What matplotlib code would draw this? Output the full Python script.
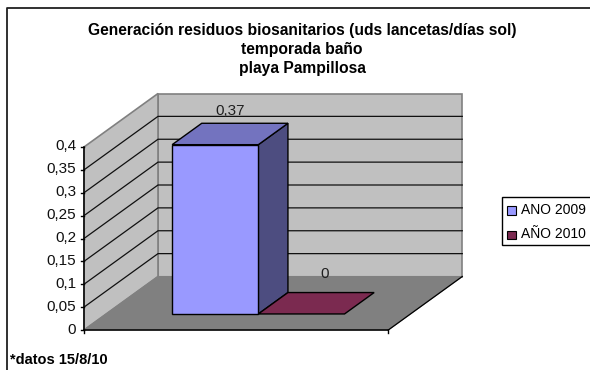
import matplotlib
matplotlib.use('Agg')
import matplotlib.pyplot as plt
from matplotlib.patches import Polygon, Rectangle

plt.rcParams['font.family'] = ['Liberation Sans', 'DejaVu Sans']

# chart data
series_names = ['ANO 2009', 'AÑO 2010']
series_values = [0.37, 0]
value_labels = ['0,37', '0']
tick_values = [0, 0.05, 0.1, 0.15, 0.2, 0.25, 0.3, 0.35, 0.4]
tick_labels = ['0', '0,05', '0,1', '0,15', '0,2', '0,25', '0,3', '0,35', '0,4']
title_lines = ['Generación residuos biosanitarios (uds lancetas/días sol)', 'temporada baño', 'playa Pampillosa']
footnote = '*datos 15/8/10'
colors = ['#9999ff', '#7b2a50']
top_colors = ['#7373bf', '#722848']
side_colors = ['#4d4d80', '#3d1528']
label_offsets = [(-15, -12.5), (-6, -19)]

# fake 3d projection, everything in image pixels
X0, Y0 = 84, 330
PX_PER_CAT = 86.2
PX_PER_VAL = 183 / 0.4
DX, DY = 74, -53.5
GAP = 0.765
N_CATS = 3.53


def proj(x, v, d):
    return (X0 + x * PX_PER_CAT + d * DX, Y0 - v * PX_PER_VAL + d * DY)


fig = plt.figure(figsize=(5.9, 3.7), dpi=100)
ax = fig.add_axes([0, 0, 1, 1])
ax.set_xlim(0, 590)
ax.set_ylim(370, 0)
ax.axis('off')

# only the top and left of the chart frame are in the picture
ax.plot([6.5, 6.5, 590], [370, 8, 8], color='#202020', lw=1.3, zorder=0)

vtop = tick_values[-1]
wall = '#c0c0c0'
wall_edge = '#808080'
# back wall, side wall, floor
ax.add_patch(Polygon([proj(0, 0, 1), proj(N_CATS, 0, 1), proj(N_CATS, vtop, 1), proj(0, vtop, 1)],
                     fc=wall, ec=wall_edge, lw=1.2, zorder=1))
ax.add_patch(Polygon([proj(0, 0, 0), proj(0, 0, 1), proj(0, vtop, 1), proj(0, vtop, 0)],
                     fc=wall, ec=wall_edge, lw=1.2, zorder=1))
ax.add_patch(Polygon([proj(0, 0, 0), proj(N_CATS, 0, 0), proj(N_CATS, 0, 1), proj(0, 0, 1)],
                     fc='#808080', ec='#808080', lw=0.8, zorder=1))

# gridlines
for v in tick_values[1:-1]:
    pts = [proj(0, v, 0), proj(0, v, 1), proj(N_CATS, v, 1)]
    ax.plot([p[0] for p in pts], [p[1] for p in pts], color='#101010', lw=0.9, zorder=2)

# bars
d0, d1 = 0.3, 0.7
for i, (val, c, ct, cs, lab) in enumerate(zip(series_values, colors, top_colors, side_colors, value_labels)):
    x0 = GAP + i
    x1 = x0 + 1
    if val > 0:
        ax.add_patch(Polygon([proj(x1, 0, d0), proj(x1, 0, d1), proj(x1, val, d1), proj(x1, val, d0)],
                             fc=cs, ec='black', lw=1, zorder=3 + i))
        ax.add_patch(Polygon([proj(x0, val, d0), proj(x1, val, d0), proj(x1, val, d1), proj(x0, val, d1)],
                             fc=ct, ec='black', lw=1, zorder=3 + i))
        ax.add_patch(Polygon([proj(x0, 0, d0), proj(x1, 0, d0), proj(x1, val, d0), proj(x0, val, d0)],
                             fc=c, ec='black', lw=1, zorder=3 + i))
    else:
        ax.add_patch(Polygon([proj(x0, 0, d0), proj(x1, 0, d0), proj(x1, 0, d1), proj(x0, 0, d1)],
                             fc=c, ec='black', lw=1, zorder=3 + i))
    lx, ly = proj(x0 + 0.5, val, d1)
    ax.text(lx + label_offsets[i][0], ly + label_offsets[i][1], lab, ha='center', va='center',
            fontsize=11, color='#202020', zorder=8)

# axes lines and ticks
ax.plot([X0, X0], [Y0, proj(0, vtop, 0)[1]], color='black', lw=1.1, zorder=6)
ax.plot([X0, proj(N_CATS, 0, 0)[0]], [Y0, Y0], color='black', lw=1.1, zorder=6)
ax.plot([proj(N_CATS, 0, 0)[0], proj(N_CATS, 0, 1)[0]], [Y0, proj(N_CATS, 0, 1)[1]], color='black', lw=0.9, zorder=6)
for xt in [0, N_CATS]:
    ax.plot([proj(xt, 0, 0)[0]] * 2, [Y0, Y0 + 3], color='black', lw=1, zorder=6)
for v, lab in zip(tick_values, tick_labels):
    y = proj(0, v, 0)[1]
    ax.plot([X0 - 3, X0], [y, y], color='black', lw=1, zorder=6)
    ax.text(X0 - 8, y - 0.5, lab, ha='right', va='center', fontsize=11, color='#101010')

# title and footnote
for line, y in zip(title_lines, [30, 49.5, 69]):
    ax.text(302, y, line, ha='center', va='center', fontsize=11.25, fontweight='bold')
ax.text(10, 360, footnote, ha='left', va='center', fontsize=10.5, fontweight='bold')

# legend drawn by hand since it touches the right edge
ax.add_patch(Rectangle((502, 197), 89, 48, fc='white', ec='black', lw=1, zorder=5))
for name, c, y in zip(series_names, colors, [210, 234.5]):
    ax.add_patch(Rectangle((507, y - 4), 8.5, 8.5, fc=c, ec='black', lw=0.8, zorder=6))
    ax.text(521, y, name, ha='left', va='center', fontsize=10, zorder=6)

fig.savefig('out.png', dpi=100)
